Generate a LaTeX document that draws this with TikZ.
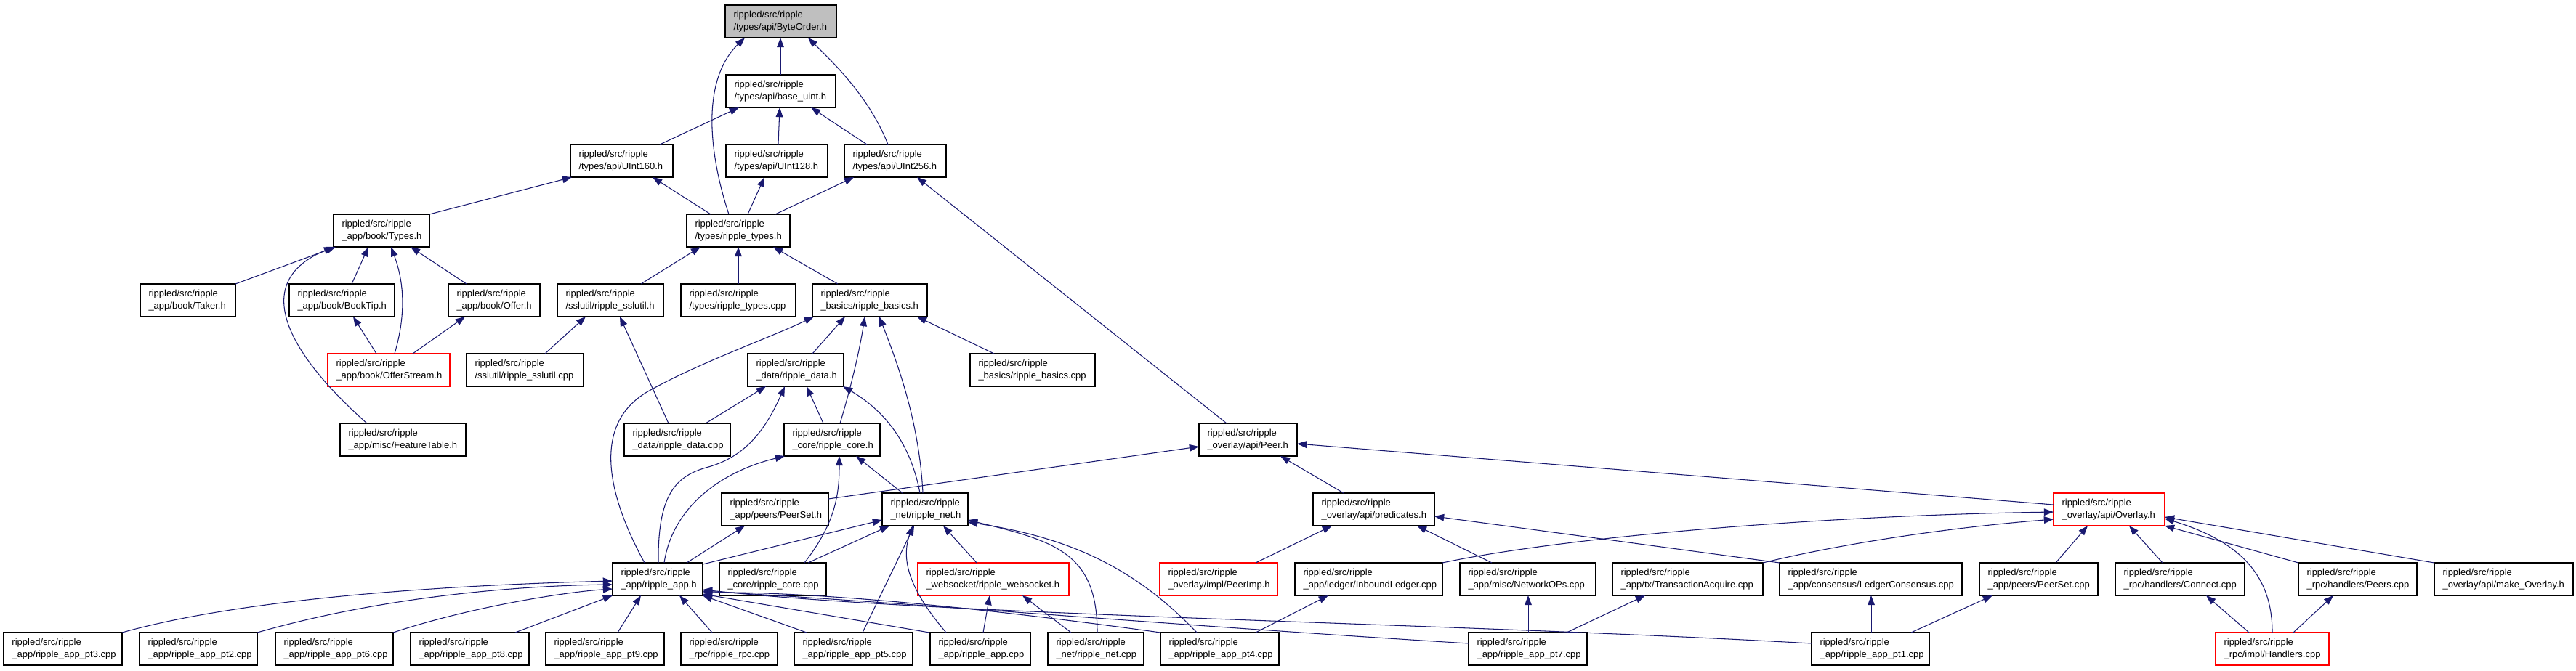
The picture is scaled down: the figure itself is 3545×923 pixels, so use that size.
\documentclass[tikz,border=0pt]{standalone}
\usepackage{fontspec}
\setmainfont{Liberation Sans}
\usetikzlibrary{arrows.meta}
\definecolor{eblue}{HTML}{191970}
\definecolor{gfill}{HTML}{BFBFBF}
\definecolor{rborder}{HTML}{FF0000}
\newcommand\mkbox[6][]{%
  \pgfmathsetmacro\bxc{(#3+#4)/2}%
  \pgfmathsetmacro\bxy{29.5+96*#5}%
  \pgfmathsetmacro\bxt{(#4-#3)*0.02-0.46}%
  \node[nb,#1,text width=\bxt cm] (#2) at (\bxc,\bxy) {rippled/src/ripple\\#6};%
}
\begin{document}
\begin{tikzpicture}[x=0.02cm,y=-0.02cm,
  nb/.style={draw=black,line width=0.8pt,fill=white,font=\fontsize{7.4}{9.68}\selectfont,
    align=left,inner xsep=0.23cm,inner ysep=0pt,minimum height=0.9cm,outer sep=0pt},
  redb/.style={draw=rborder},
  lnk/.style={draw=eblue,line width=0.6pt,-{Triangle[length=7.5pt,width=5.5pt]},fill=none}]
\fill[white] (0,0) rectangle (3545,923);
\useasboundingbox (0,0) rectangle (3545,923);
% row 0-4
\mkbox[fill=gfill]{byteorder}{998}{1151}{0}{/types/api/ByteOrder.h}
\mkbox{baseuint}{999}{1150}{1}{/types/api/base\_uint.h}
\mkbox{uint160}{785}{926}{2}{/types/api/UInt160.h}
\mkbox{uint128}{999}{1139}{2}{/types/api/UInt128.h}
\mkbox{uint256}{1162}{1302}{2}{/types/api/UInt256.h}
\mkbox{typesh}{459}{591}{3}{\_app/book/Types.h}
\mkbox{rtypesh}{945}{1087}{3}{/types/ripple\_types.h}
\mkbox{taker}{193}{324}{4}{\_app/book/Taker.h}
\mkbox{booktip}{398}{543}{4}{\_app/book/BookTip.h}
\mkbox{offer}{617}{743}{4}{\_app/book/Offer.h}
\mkbox{sslutilh}{767}{913}{4}{/sslutil/ripple\_sslutil.h}
\mkbox{rtypescpp}{937}{1095}{4}{/types/ripple\_types.cpp}
\mkbox{basicsh}{1118}{1276}{4}{\_basics/ripple\_basics.h}
% row 5-7
\mkbox[redb]{offerstream}{451}{619}{5}{\_app/book/OfferStream.h}
\mkbox{sslutilcpp}{642}{803}{5}{/sslutil/ripple\_sslutil.cpp}
\mkbox{datah}{1029}{1161}{5}{\_data/ripple\_data.h}
\mkbox{basicscpp}{1335}{1507}{5}{\_basics/ripple\_basics.cpp}
\mkbox{featuretable}{468}{641}{6}{\_app/misc/FeatureTable.h}
\mkbox{datacpp}{859}{1005}{6}{\_data/ripple\_data.cpp}
\mkbox{coreh}{1079}{1211}{6}{\_core/ripple\_core.h}
\mkbox{peerh}{1650}{1785}{6}{\_overlay/api/Peer.h}
\mkbox{peerseth}{993}{1140}{7}{\_app/peers/PeerSet.h}
\mkbox{neth}{1214}{1332}{7}{\_net/ripple\_net.h}
\mkbox{predicates}{1807}{1974}{7}{\_overlay/api/predicates.h}
\mkbox[redb]{overlay}{2826}{2979}{7}{\_overlay/api/Overlay.h}
% row 8
\mkbox{apph}{843}{967}{8}{\_app/ripple\_app.h}
\mkbox{corecpp}{990}{1137}{8}{\_core/ripple\_core.cpp}
\mkbox[redb]{websocket}{1263}{1471}{8}{\_websocket/ripple\_websocket.h}
\mkbox[redb]{peerimp}{1596}{1758}{8}{\_overlay/impl/PeerImp.h}
\mkbox{inbound}{1782}{1985}{8}{\_app/ledger/InboundLedger.cpp}
\mkbox{netops}{2009}{2196}{8}{\_app/misc/NetworkOPs.cpp}
\mkbox{txacq}{2219}{2426}{8}{\_app/tx/TransactionAcquire.cpp}
\mkbox{consensus}{2449}{2700}{8}{\_app/consensus/LedgerConsensus.cpp}
\mkbox{peersetcpp}{2724}{2887}{8}{\_app/peers/PeerSet.cpp}
\mkbox{connect}{2911}{3089}{8}{\_rpc/handlers/Connect.cpp}
\mkbox{peers}{3163}{3326}{8}{\_rpc/handlers/Peers.cpp}
\mkbox{makeoverlay}{3350}{3541}{8}{\_overlay/api/make\_Overlay.h}
% row 9
\mkbox{pt3}{5}{168}{9}{\_app/ripple\_app\_pt3.cpp}
\mkbox{pt2}{192}{354}{9}{\_app/ripple\_app\_pt2.cpp}
\mkbox{pt6}{379}{541}{9}{\_app/ripple\_app\_pt6.cpp}
\mkbox{pt8}{565}{728}{9}{\_app/ripple\_app\_pt8.cpp}
\mkbox{pt9}{751}{914}{9}{\_app/ripple\_app\_pt9.cpp}
\mkbox{rpc}{937}{1070}{9}{\_rpc/ripple\_rpc.cpp}
\mkbox{pt5}{1093}{1256}{9}{\_app/ripple\_app\_pt5.cpp}
\mkbox{appcpp}{1280}{1418}{9}{\_app/ripple\_app.cpp}
\mkbox{netcpp}{1442}{1574}{9}{\_net/ripple\_net.cpp}
\mkbox{pt4}{1597}{1760}{9}{\_app/ripple\_app\_pt4.cpp}
\mkbox{pt7}{2021}{2184}{9}{\_app/ripple\_app\_pt7.cpp}
\mkbox{pt1}{2493}{2655}{9}{\_app/ripple\_app\_pt1.cpp}
\mkbox[redb]{handlers}{3049}{3205}{9}{\_rpc/impl/Handlers.cpp}
% edges
\draw[lnk] (baseuint.north -| 1074,0) -- (byteorder.south -| 1074,0);
\draw[lnk] (rtypesh.north -| 1003,0) .. controls (975,210) and (965,110) .. (byteorder.south -| 1025,0);
\draw[lnk] (uint256.north -| 1222,0) .. controls (1195,130) and (1140,80) .. (byteorder.south -| 1112,0);
\draw[lnk] (uint160.north -| 908,0) -- (baseuint.south -| 1017,0);
\draw[lnk] (uint128.north -| 1071,0) -- (baseuint.south -| 1073,0);
\draw[lnk] (uint256.north -| 1193,0) -- (baseuint.south -| 1116,0);
\draw[lnk] (typesh.north -| 591,0) -- (uint160.south -| 787,0);
\draw[lnk] (rtypesh.north -| 978,0) -- (uint160.south -| 898,0);
\draw[lnk] (rtypesh.north -| 1029,0) -- (uint128.south -| 1052,0);
\draw[lnk] (rtypesh.north -| 1067,0) -- (uint256.south -| 1175,0);
\draw[lnk] (peerh.north -| 1688,0) -- (uint256.south -| 1262,0);
\draw[lnk] (sslutilh.north -| 882,0) -- (rtypesh.south -| 964,0);
\draw[lnk] (rtypescpp.north -| 1016,0) -- (rtypesh.south -| 1016,0);
\draw[lnk] (basicsh.north -| 1153,0) -- (rtypesh.south -| 1064,0);
\draw[lnk] (taker.north -| 324,0) -- (typesh.south -| 462,0);
\draw[lnk] (booktip.north -| 484,0) -- (typesh.south -| 507,0);
\draw[lnk] (offer.north -| 642,0) -- (typesh.south -| 565,0);
\draw[lnk] (offerstream.north -| 543,0) .. controls (560,430) and (555,385) .. (typesh.south -| 538,0);
\draw[lnk] (featuretable.north -| 505,0) .. controls (400,490) and (340,390) .. (typesh.south -| 459,0);
\draw[lnk] (offerstream.north -| 518,0) -- (booktip.south -| 486,0);
\draw[lnk] (offerstream.north -| 568,0) -- (offer.south -| 640,0);
\draw[lnk] (sslutilcpp.north -| 750,0) -- (sslutilh.south -| 806,0);
\draw[lnk] (datacpp.north -| 920,0) -- (sslutilh.south -| 853,0);
\draw[lnk] (apph.north -| 887,0) .. controls (835,680) and (815,585) .. (890,540) .. controls (960,500) and (1060,465) .. (basicsh.south -| 1120,0);
\draw[lnk] (datah.north -| 1118,0) -- (basicsh.south -| 1163,0);
\draw[lnk] (coreh.north -| 1156,0) .. controls (1175,520) and (1185,470) .. (basicsh.south -| 1190,0);
\draw[lnk] (neth.north -| 1270,0) .. controls (1265,580) and (1235,500) .. (basicsh.south -| 1210,0);
\draw[lnk] (basicscpp.north -| 1368,0) -- (basicsh.south -| 1262,0);
\draw[lnk] (datacpp.north -| 971,0) -- (datah.south -| 1054,0);
\draw[lnk] (apph.north -| 906,0) .. controls (905,680) and (930,655) .. (975,643) .. controls (1020,630) and (1050,600) .. (datah.south -| 1080,0);
\draw[lnk] (coreh.north -| 1133,0) -- (datah.south -| 1110,0);
\draw[lnk] (neth.north -| 1266,0) .. controls (1255,620) and (1225,570) .. (datah.south -| 1160,0);
\draw[lnk] (apph.north -| 914,0) .. controls (925,700) and (990,650) .. (coreh.south -| 1080,0);
\draw[lnk] (corecpp.north -| 1107,0) .. controls (1150,720) and (1155,680) .. (coreh.south -| 1155,0);
\draw[lnk] (neth.north -| 1242,0) -- (coreh.south -| 1178,0);
\draw[lnk] (peerseth.east |- 0,687) -- (peerh.west |- 0,615);
\draw[lnk] (apph.north -| 945,0) -- (peerseth.south -| 1025,0);
\draw[lnk] (apph.east |- 0,777) -- (neth.west |- 0,716);
\draw[lnk] (corecpp.north -| 1112,0) -- (neth.south -| 1224,0);
\draw[lnk] (pt5.north -| 1187,0) -- (neth.south -| 1258,0);
\draw[lnk] (appcpp.north -| 1302,0) .. controls (1250,810) and (1240,770) .. (neth.south -| 1256,0);
\draw[lnk] (websocket.north -| 1344,0) -- (neth.south -| 1298,0);
\draw[lnk] (netcpp.north -| 1510,0) .. controls (1510,760) and (1450,745) .. (neth.east |- 0,716);
\draw[lnk] (pt4.north -| 1647,0) .. controls (1560,780) and (1470,740) .. (neth.east |- 0,719);
\draw[lnk] (appcpp.north -| 1353,0) -- (websocket.south -| 1362,0);
\draw[lnk] (netcpp.north -| 1474,0) -- (websocket.south -| 1407,0);
\draw[lnk] (peerimp.north -| 1728,0) -- (predicates.south -| 1833,0);
\draw[lnk] (predicates.north -| 1849,0) -- (peerh.south -| 1762,0);
\draw[lnk] (overlay.west |- 0,695) -- (peerh.east |- 0,611);
\draw[lnk] (inbound.north -| 1985,0) .. controls (2150,740) and (2500,710) .. (overlay.west |- 0,705);
\draw[lnk] (netops.north -| 2053,0) -- (predicates.south -| 1950,0);
\draw[lnk] (consensus.north -| 2449,0) -- (predicates.east |- 0,711);
\draw[lnk] (txacq.north -| 2426,0) .. controls (2550,745) and (2700,725) .. (overlay.west |- 0,715);
\draw[lnk] (peersetcpp.north -| 2829,0) -- (overlay.south -| 2873,0);
\draw[lnk] (connect.north -| 2976,0) -- (overlay.south -| 2930,0);
\draw[lnk] (peers.north -| 3163,0) -- (overlay.south east);
\draw[lnk] (makeoverlay.north -| 3350,0) -- (overlay.east |- 0,712);
\draw[lnk] (handlers.north -| 3127,0) .. controls (3127,790) and (3080,745) .. (overlay.east |- 0,714);
\draw[lnk] (pt7.north -| 2103,0) -- (netops.south -| 2103,0);
\draw[lnk] (pt7.north -| 2156,0) -- (txacq.south -| 2264,0);
\draw[lnk] (pt1.north -| 2575,0) -- (consensus.south -| 2575,0);
\draw[lnk] (pt1.north -| 2630,0) -- (peersetcpp.south -| 2742,0);
\draw[lnk] (pt4.north -| 1728,0) -- (inbound.south -| 1828,0);
\draw[lnk] (handlers.north -| 3095,0) -- (connect.south -| 3036,0);
\draw[lnk] (handlers.north -| 3156,0) -- (peers.south -| 3211,0);
\draw[lnk] (pt3.north -| 168,0) .. controls (350,820) and (650,805) .. (apph.west |- 0,800);
\draw[lnk] (pt2.north -| 354,0) .. controls (550,815) and (750,806) .. (apph.west |- 0,805);
\draw[lnk] (pt6.north -| 541,0) .. controls (650,835) and (780,815) .. (apph.west |- 0,811);
\draw[lnk] (pt8.north -| 709,0) -- (apph.south west);
\draw[lnk] (pt9.north -| 850,0) -- (apph.south -| 882,0);
\draw[lnk] (rpc.north -| 980,0) -- (apph.south -| 935,0);
\draw[lnk] (pt5.north -| 1110,0) -- (apph.south east);
\draw[lnk] (appcpp.north -| 1279,0) -- (apph.east |- 0,818);
\draw[lnk] (pt4.north -| 1597,0) .. controls (1300,830) and (1100,815) .. (apph.east |- 0,816);
\draw[lnk] (pt7.west |- 0,886) .. controls (1600,860) and (1250,830) .. (apph.east |- 0,814);
\draw[lnk] (pt1.west |- 0,886) .. controls (2000,858) and (1300,848) .. (apph.east |- 0,812);
\end{tikzpicture}
\end{document}
